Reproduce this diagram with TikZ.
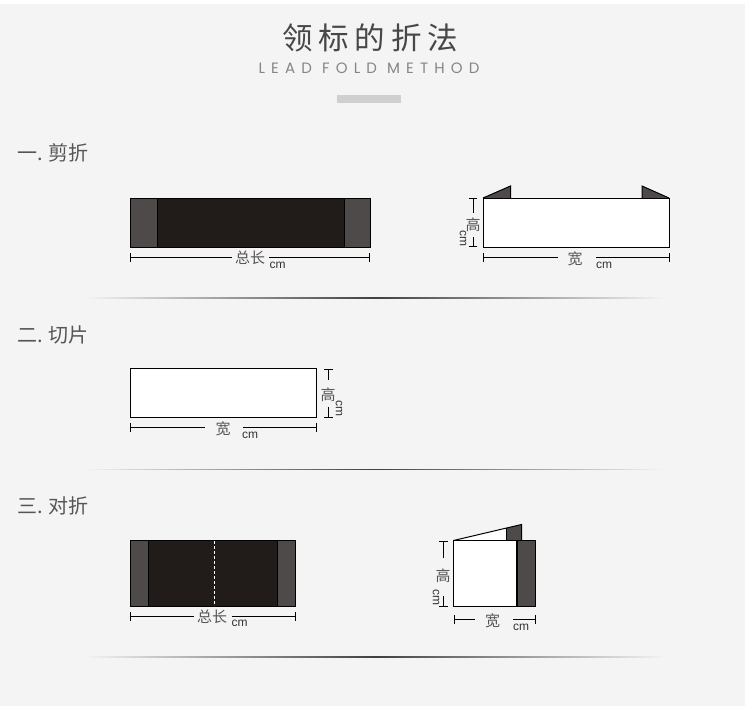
\documentclass[tikz,border=0pt]{standalone}
\usepackage{fontspec}
\setmainfont{Liberation Sans}
\newfontfamily\cjk{Noto Sans CJK SC}
\newfontfamily\cjkwide[LetterSpace=19]{Noto Sans CJK SC}
\newfontfamily\latinwide[LetterSpace=41]{Poppins}
\usetikzlibrary{arrows.meta}
\definecolor{pagebg}{HTML}{F4F4F4}
\definecolor{labelink}{HTML}{555555}
\definecolor{sidepanel}{HTML}{4E4A49}
\definecolor{midpanel}{HTML}{211C19}
\tikzset{
  edge/.style={draw=black, line width=1pt},
  dimbar/.style={draw=black, line width=1pt, {Bar[width=8.5pt,length=1pt]}-},
  dimtag/.style={inner sep=0pt, text=labelink, font=\cjk\fontsize{15}{15}\selectfont},
  cmtag/.style={inner sep=0pt, text=black!80, font=\fontsize{12}{12}\selectfont},
  steptag/.style={inner sep=0pt, anchor=west, text=labelink, font=\cjk\fontsize{20}{20}\selectfont},
  fadeline/.style={left color=pagebg, right color=pagebg, middle color=black!75}
}
\begin{document}
\begin{tikzpicture}[x=1pt, y=-1pt]
  \useasboundingbox (0,0) rectangle (750,716);
  \fill[pagebg] (0,4) rectangle (745,705.5);

  % 1. 标题
  \node[inner sep=0pt, text=black!72, font=\cjkwide\fontsize{30.5}{31}\selectfont] (title) at (370,38) {领标的折法};
  \node[inner sep=0pt, text=black!48, font=\latinwide\fontsize{15}{15}\selectfont] (subtitle) at (369,68.5) {LEAD FOLD METHOD};
  \fill[black!19] (337,95) rectangle (401,103);

  % 2. 分段标题与分隔线
  \node[steptag] (stepa) at (17,152.5) {一. 剪折};
  \node[steptag] (stepb) at (17,334.5) {二. 切片};
  \node[steptag] (stepc) at (17,505.5) {三. 对折};
  \shade[fadeline] (85,297.6) rectangle (665,298.4);
  \shade[fadeline] (85,469.1) rectangle (665,469.9);
  \shade[fadeline] (85,656.6) rectangle (665,657.4);

  % 3. 剪折 左
  \fill[midpanel] (157,198) rectangle (344,247.5);
  \fill[sidepanel] (130,198) rectangle (157,247.5);
  \fill[sidepanel] (344,198) rectangle (370,247.5);
  \draw[edge] (130,198) rectangle (370,247.5);
  \draw[edge] (157,198) -- (157,247.5);
  \draw[edge] (344,198) -- (344,247.5);
  \node[dimtag] (lena) at (250,258) {总长};
  \node[cmtag] (cma) at (277.5,265) {cm};
  \coordinate (lenaL) at (130,257.5);
  \coordinate (lenaR) at (370,257.5);
  \draw[dimbar] (lenaL) -- (232,257.5);
  \draw[dimbar] (lenaR) -- (269,257.5);

  % 4. 剪折 右
  \fill[sidepanel] (483,198) -- (510.5,186) -- (510.5,198) -- cycle;
  \fill[sidepanel] (642,186) -- (669,198) -- (642,198) -- cycle;
  \draw[edge] (483,198) -- (510.5,186) -- (510.5,198);
  \draw[edge] (642,198) -- (642,186) -- (669,198);
  \draw[edge, fill=white] (483,198) rectangle (669,247);
  \node[dimtag] (higha) at (473,225) {高};
  \node[cmtag, rotate=-90] (cmb) at (463,238) {cm};
  \coordinate (highaT) at (473,198);
  \coordinate (highaB) at (473,247);
  \draw[dimbar] (highaT) -- (473,213);
  \draw[dimbar] (highaB) -- (473,237);
  \node[dimtag] (widea) at (575,259) {宽};
  \node[cmtag] (cmc) at (604,265) {cm};
  \coordinate (wideaL) at (483,257.5);
  \coordinate (wideaR) at (669.5,257.5);
  \draw[dimbar] (wideaL) -- (558,257.5);
  \draw[dimbar] (wideaR) -- (596,257.5);

  % 5. 切片
  \draw[edge, fill=white] (130,368.5) rectangle (316.5,417.5);
  \node[dimtag] (wideb) at (223,429) {宽};
  \node[cmtag] (cmd) at (250,435) {cm};
  \coordinate (widebL) at (130,427.5);
  \coordinate (widebR) at (316.5,427.5);
  \draw[dimbar] (widebL) -- (205,427.5);
  \draw[dimbar] (widebR) -- (243,427.5);
  \node[dimtag] (highb) at (328,395) {高};
  \node[cmtag, rotate=-90] (cme) at (339,408) {cm};
  \coordinate (highbT) at (328.5,368.5);
  \coordinate (highbB) at (328.5,417.5);
  \draw[dimbar] (highbT) -- (328.5,380);
  \draw[dimbar] (highbB) -- (328.5,407);

  % 6. 对折 左
  \fill[midpanel] (148.5,540.5) rectangle (277.5,606.5);
  \fill[sidepanel] (130,540.5) rectangle (148.5,606.5);
  \fill[sidepanel] (277.5,540.5) rectangle (295.5,606.5);
  \draw[edge] (130,540.5) rectangle (295.5,606.5);
  \draw[black, line width=1.6pt] (148.5,540.5) -- (148.5,606.5);
  \draw[edge] (277.5,540.5) -- (277.5,606.5);
  \draw[white, line width=1pt, dash pattern=on 3pt off 2pt] (214.5,541) -- (214.5,606);
  \node[dimtag] (lenb) at (212,617) {总长};
  \node[cmtag] (cmf) at (239.5,623) {cm};
  \coordinate (lenbL) at (130,616.5);
  \coordinate (lenbR) at (295.5,616.5);
  \draw[dimbar] (lenbL) -- (194,616.5);
  \draw[dimbar] (lenbR) -- (232,616.5);

  % 7. 对折 右
  \fill[white] (453.5,540.5) -- (521.5,524.5) -- (521.5,540.5) -- cycle;
  \fill[sidepanel] (506.5,528) -- (521.5,524.5) -- (521.5,540.5) -- (506.5,540.5) -- cycle;
  \draw[edge] (453.5,540.5) -- (521.5,524.5) -- (521.5,540.5);
  \draw[edge] (506.5,528) -- (506.5,540.5);
  \draw[edge, fill=sidepanel] (517,540.5) rectangle (535.5,606.5);
  \draw[edge, fill=white] (453.5,540.5) rectangle (517,606.5);
  \draw[black, line width=2pt] (517,540.5) -- (517,606.5);
  \node[dimtag] (highc) at (443,576) {高};
  \node[cmtag, rotate=-90] (cmg) at (436,597) {cm};
  \coordinate (highcT) at (443.5,540.5);
  \coordinate (highcB) at (443.5,606.5);
  \draw[dimbar] (highcT) -- (443.5,558);
  \draw[dimbar] (highcB) -- (443.5,596);
  \node[dimtag] (widec) at (492.5,620.5) {宽};
  \node[cmtag] (cmh) at (521,627) {cm};
  \coordinate (widecL) at (453.5,619.5);
  \coordinate (widecR) at (535.5,619.5);
  \draw[dimbar] (widecL) -- (475,619.5);
  \draw[dimbar] (widecR) -- (513,619.5);
\end{tikzpicture}
\end{document}
